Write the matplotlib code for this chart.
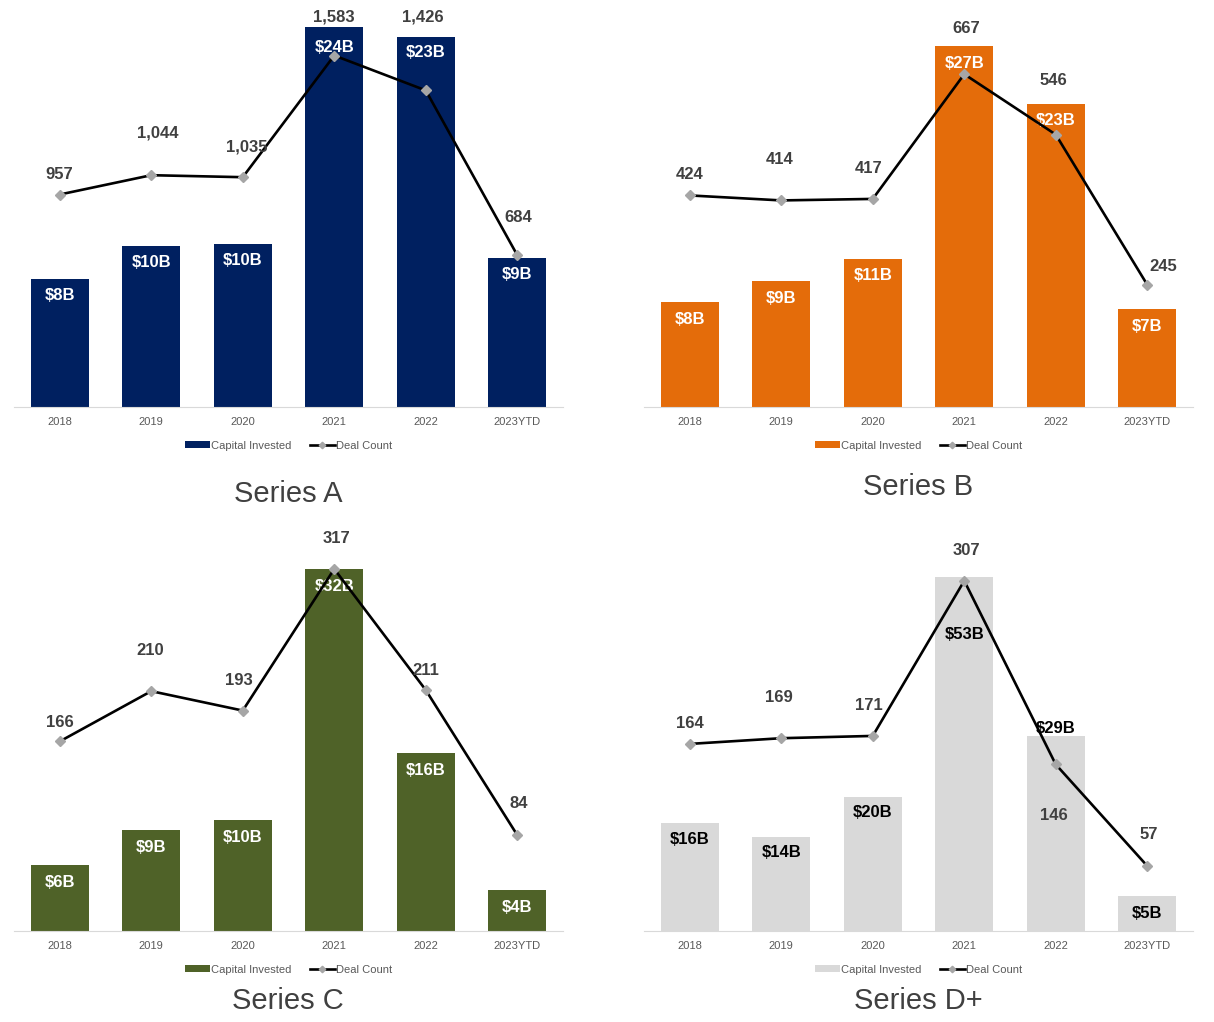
import matplotlib
matplotlib.use("Agg")
import matplotlib.pyplot as plt

plt.rcParams['font.family'] = ['Liberation Sans', 'DejaVu Sans']

# data
years = ["2018", "2019", "2020", "2021", "2022", "2023YTD"]

capital_a = [8.1, 10.2, 10.3, 24.0, 23.4, 9.4]
deals_a = [957, 1044, 1035, 1583, 1426, 684]
cap_labels_a = ["$8B", "$10B", "$10B", "$24B", "$23B", "$9B"]

capital_b = [7.85, 9.4, 11.1, 27.0, 22.7, 7.3]
deals_b = [424, 414, 417, 667, 546, 245]
cap_labels_b = ["$8B", "$9B", "$11B", "$27B", "$23B", "$7B"]

capital_c = [5.8, 8.9, 9.8, 32.0, 15.7, 3.6]
deals_c = [166, 210, 193, 317, 211, 84]
cap_labels_c = ["$6B", "$9B", "$10B", "$32B", "$16B", "$4B"]

capital_d = [16.2, 14.1, 20.1, 53.0, 29.2, 5.2]
deals_d = [164, 169, 171, 307, 146, 57]
cap_labels_d = ["$16B", "$14B", "$20B", "$53B", "$29B", "$5B"]

W, H = 1214, 1022
fig = plt.figure(figsize=(W / 100, H / 100), dpi=100)
fig.patch.set_facecolor("white")


def draw_panel(left_px, base_px, bar_max, line_max, capital, deals, cap_labels,
               color, label_color, title, title_xy, deal_offsets, bar_offsets):
    height_px = 397
    ax = fig.add_axes([left_px / W, (H - base_px) / H, 549 / W, height_px / H])
    x = list(range(len(years)))
    bars = ax.bar(x, capital, width=0.63, color=color, label="Capital Invested", zorder=2)
    ax.set_xlim(-0.5, 5.5)
    ax.set_ylim(0, bar_max)
    ax.set_xticks(x)
    ax.set_xticklabels(years, fontsize=8, color="#595959")
    ax.tick_params(axis="x", length=0, pad=7)
    ax.set_yticks([])
    for s in ["top", "left", "right"]:
        ax.spines[s].set_visible(False)
    ax.spines["bottom"].set_color("#d9d9d9")
    for i, b in enumerate(bars):
        ax.annotate(cap_labels[i], (b.get_x() + b.get_width() / 2, b.get_height()),
                    xytext=(0, -bar_offsets[i]), textcoords="offset pixels",
                    ha="center", va="center", fontsize=12, fontweight="bold",
                    color=label_color, zorder=3)

    ax2 = ax.twinx()
    ax2.plot(x, deals, color="black", lw=1.9, marker="D", markersize=5.5,
             markerfacecolor="#a6a6a6", markeredgecolor="#a6a6a6", label="Deal Count")
    ax2.set_ylim(0, line_max)
    ax2.set_yticks([])
    for s in ["top", "left", "right", "bottom"]:
        ax2.spines[s].set_visible(False)
    for i, v in enumerate(deals):
        dx, dy = deal_offsets[i]
        ax2.annotate(f"{v:,}", (i, v), xytext=(dx, dy), textcoords="offset pixels",
                     ha="center", va="center", fontsize=12, fontweight="bold",
                     color="#404040")

    h1, l1 = ax.get_legend_handles_labels()
    h2, l2 = ax2.get_legend_handles_labels()
    ax.legend(h1 + h2, l1 + l2, loc="center", bbox_to_anchor=(0.5, -0.097), ncol=2,
              frameon=False, fontsize=8, handlelength=2.3, handleheight=0.5,
              handletextpad=0.1, columnspacing=1.6, labelcolor="#595959",
              markerscale=0.6)

    fig.text(title_xy[0] / W, 1 - title_xy[1] / H, title, ha="center", va="center",
             fontsize=21, color="#404040")


draw_panel(14, 407, 25.08, 1788, capital_a, deals_a, cap_labels_a, "#002060", "white",
           "Series A", (288, 494),
           [(0, 20), (7, 42), (4, 30), (0, 39), (-3, 73), (1, 38)],
           [17, 17, 17, 20, 16, 16])
draw_panel(644, 407, 29.7, 795.6, capital_b, deals_b, cap_labels_b, "#e46c0a", "white",
           "Series B", (918, 487),
           [(0, 21), (-2, 41), (-4, 30), (2, 46), (-2, 54), (16, 18)],
           [17, 17, 17, 17, 17, 17])
draw_panel(14, 931, 35.1, 347.6, capital_c, deals_c, cap_labels_c, "#4f6228", "white",
           "Series C", (288, 1001),
           [(0, 19), (-1, 41), (-4, 30), (2, 30), (0, 20), (1, 32)],
           [17, 17, 17, 17, 17, 17])
draw_panel(644, 931, 59.4, 348, capital_d, deals_d, cap_labels_d, "#d9d9d9", "black",
           "Series D+", (918, 1001),
           [(0, 20), (-2, 41), (-4, 30), (2, 30), (-2, -51), (2, 31)],
           [17, 16, 16, 58, -7, 17])

fig.savefig("out.png", dpi=100)
